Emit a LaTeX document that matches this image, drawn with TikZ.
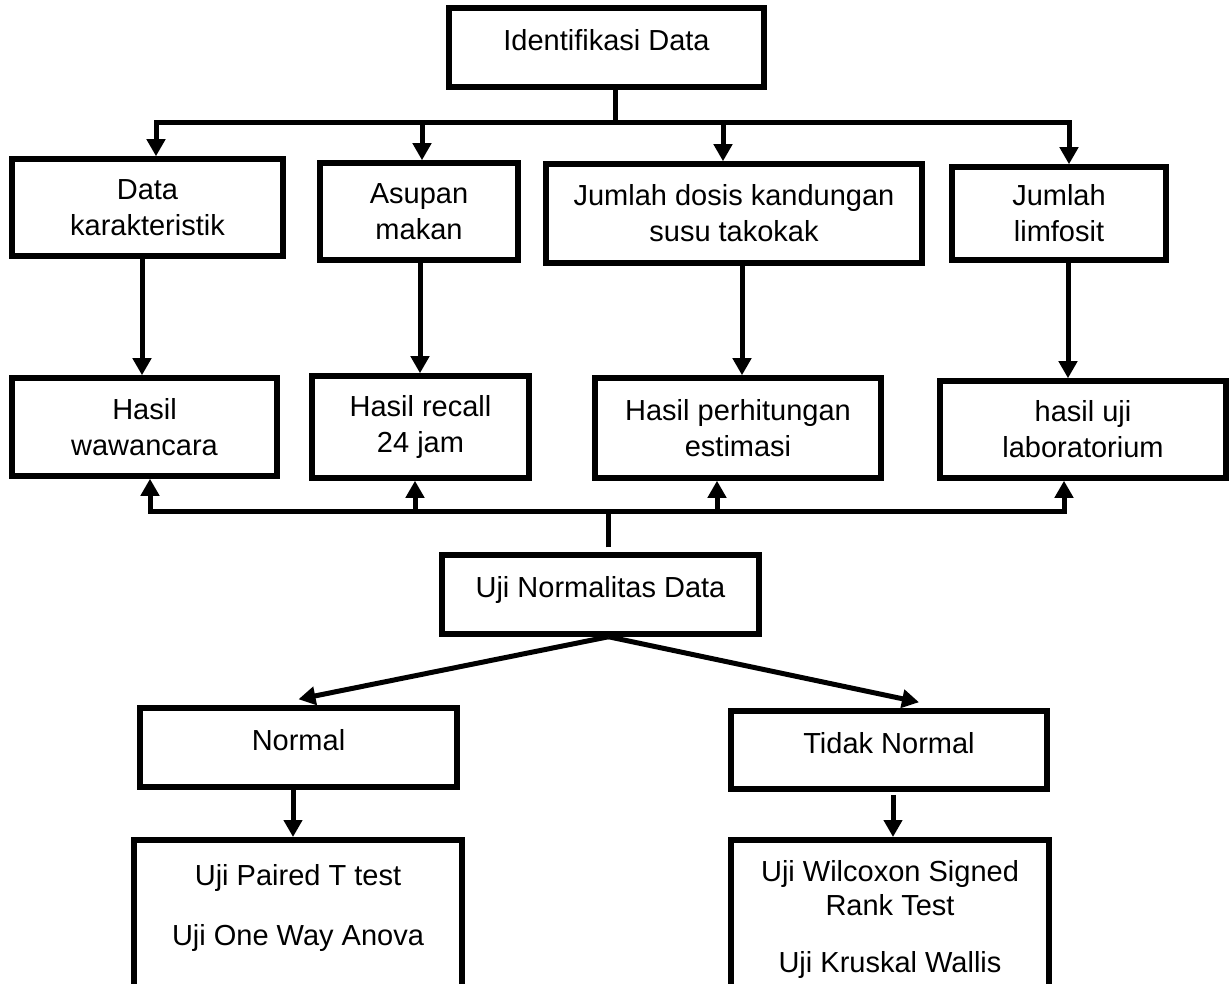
\documentclass[tikz,border=0pt]{standalone}
\usepackage{fontspec}
\setmainfont{Liberation Sans}
\usetikzlibrary{arrows.meta}
\begin{document}
\begin{tikzpicture}[x=1pt,y=-1pt,>={Triangle[length=17pt,width=18pt]},
  font=\fontsize{29}{36}\selectfont, line width=5pt,
  kotak/.style={draw,line width=5.5pt,align=center,inner sep=0pt},
  atas/.style={text height=22pt,text depth=16pt},
  hasil/.style={kotak,anchor=north,inner ysep=#1}]
  \useasboundingbox (0,0) rectangle (1232,984);
  \clip (0,0) rectangle (1232,984);
  % identifikasi
  \node[kotak,atas,minimum width=315,minimum height=79] (idt) at (606.5,47.5) {Identifikasi Data};
  % jenis data
  \node[kotak,minimum width=271,minimum height=97] (dk) at (147.5,207.5) {Data\\karakteristik};
  \node[kotak,minimum width=198,minimum height=97] (am) at (419,211.5) {Asupan\\makan};
  \node[kotak,minimum width=376,minimum height=99] (jd) at (734,213.5) {Jumlah dosis kandungan\\susu takokak};
  \node[kotak,minimum width=214,minimum height=93] (jl) at (1059,213.5) {Jumlah\\limfosit};
  % sumber data
  \node[kotak,minimum width=265,minimum height=98] (hw) at (144.5,427) {Hasil\\wawancara};
  \node[kotak,minimum width=217,minimum height=102] (hr) at (420.5,427) {Hasil recall\\24 jam};
  \node[kotak,minimum width=286,minimum height=100] (hp) at (738,428) {Hasil perhitungan\\estimasi};
  \node[kotak,minimum width=286,minimum height=97] (hu) at (1083,429.5) {hasil uji\\laboratorium};
  % uji
  \node[kotak,atas,minimum width=317,minimum height=79] (un) at (600.5,594.5) {Uji Normalitas Data};
  \node[kotak,atas,minimum width=317,minimum height=79] (nm) at (298.5,747.5) {Normal};
  \node[kotak,atas,minimum width=316,minimum height=78] (tn) at (889,750) {Tidak Normal};
  \node[hasil=25pt,minimum width=328] (pt) at (298,837) {Uji Paired T test\\[24pt]Uji One Way Anova\\[50pt]~};
  \node[hasil=21pt,minimum width=318] (wx) at (890,837) {Uji Wilcoxon Signed\\[-2pt]Rank Test\\[21pt]Uji Kruskal Wallis\\[50pt]~};

  \draw ([xshift=8.5pt]idt.south) -- ++(0,33) coordinate (topbus);
  \draw[->] (topbus) -| ([xshift=8.5pt]dk.north);
  \draw[->] (topbus) -| ([xshift=3pt]am.north);
  \draw[->] (topbus) -| ([xshift=-11pt]jd.north);
  \draw[->] (topbus) -| ([xshift=10pt]jl.north);

  \draw[->] ([xshift=-5.5pt]dk.south) -- ([xshift=-5.5pt]dk.south |- hw.north);
  \draw[->] ([xshift=1pt]am.south) -- ([xshift=1pt]am.south |- hr.north);
  \draw[->] ([xshift=8pt]jd.south) -- ([xshift=8pt]jd.south |- hp.north);
  \draw[->] ([xshift=9pt]jl.south) -- ([xshift=9pt]jl.south |- hu.north);

  \draw ([xshift=8pt,yshift=5pt]un.north) -- ++(0,-36) coordinate (lowbus);
  \draw[->] (lowbus) -| ([xshift=5.5pt]hw.south);
  \draw[->] (lowbus) -| ([xshift=-5.5pt]hr.south);
  \draw[->] (lowbus) -| ([xshift=-21pt]hp.south);
  \draw[->] (lowbus) -| ([xshift=-19pt]hu.south);

  \draw[->] ([xshift=8pt]un.south) -- ([yshift=6pt]nm.north);
  \draw[->] ([xshift=8pt]un.south) -- ([xshift=30pt,yshift=6pt]tn.north);
  \draw[->] ([xshift=-5.5pt]nm.south) -- ([xshift=-5.5pt]nm.south |- pt.north);
  \draw[->] ([xshift=4pt,yshift=-3pt]tn.south) -- ([xshift=4pt]tn.south |- wx.north);
\end{tikzpicture}
\end{document}
